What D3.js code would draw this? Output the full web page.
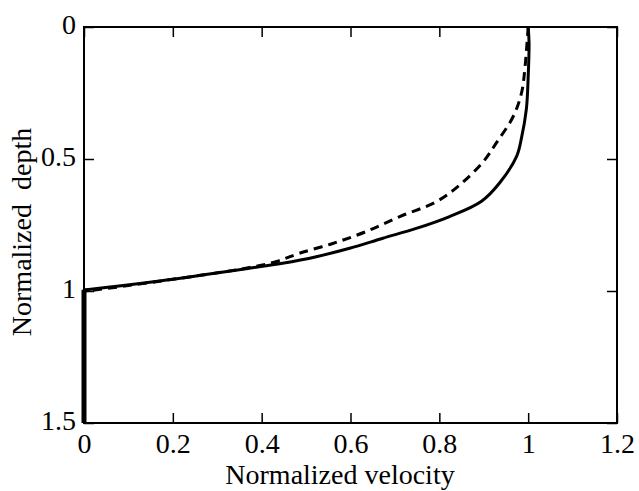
<!DOCTYPE html>
<html>
<head>
<meta charset="utf-8">
<script src="https://cdn.jsdelivr.net/npm/d3@7"></script>
<style>
  html, body { margin: 0; padding: 0; background: #fff; }
  svg { display: block; }
</style>
</head>
<body>
<svg id="chart" width="639" height="491"></svg>
<script>
// ---- data ----
const xTicks = [0, 0.2, 0.4, 0.6, 0.8, 1, 1.2];
const yTicks = [0, 0.5, 1, 1.5];
const xTickLabels = ["0", "0.2", "0.4", "0.6", "0.8", "1", "1.2"];
const yTickLabels = ["0", "0.5", "1", "1.5"];

// solid profile: velocity / depth pairs (above the bed, depth <= 1)
const solidVelocity = [1.0, 1.002, 1.0, 0.996, 0.985, 0.974, 0.936, 0.895, 0.823, 0.748, 0.673, 0.598, 0.523, 0.447, 0.372, 0.17, 0.02, 0];
const solidDepth    = [0, 0.06, 0.19, 0.31, 0.42, 0.49, 0.59, 0.66, 0.718, 0.763, 0.80, 0.838, 0.87, 0.895, 0.914, 0.962, 0.992, 0.995];

// dashed profile
const dashedVelocity = [1.0, 0.993, 0.985, 0.966, 0.928, 0.899, 0.846, 0.793, 0.711, 0.635, 0.560, 0.485, 0.432, 0.37, 0.17, 0.02, 0];
const dashedDepth    = [0, 0.15, 0.25, 0.34, 0.44, 0.51, 0.598, 0.662, 0.718, 0.775, 0.82, 0.857, 0.889, 0.912, 0.963, 0.997, 1.0];

// zero-velocity segment below the bed
const bedVelocity = [0, 0];
const bedDepth = [0.995, 1.5];

const xTitle = "Normalized velocity";
const yTitle = "Normalized  depth";

// ---- layout ----
const FONT = "'Liberation Serif', 'Times New Roman', Times, 'DejaVu Serif', serif";
const mLeft = 84, mRight = 617, mTop = 27, mBottom = 423;
const svg = d3.select("#chart");
const x = d3.scaleLinear().domain([0, 1.2]).range([mLeft, mRight]);
const y = d3.scaleLinear().domain([0, 1.5]).range([mTop, mBottom]);

const tickLen = 10;
const gB = svg.append("g").attr("transform", `translate(0,${mBottom})`)
  .call(d3.axisBottom(x).tickValues(xTicks).tickSize(-tickLen).tickFormat((d, i) => xTickLabels[i]).tickPadding(10));
const gT = svg.append("g").attr("transform", `translate(0,${mTop})`)
  .call(d3.axisTop(x).tickValues(xTicks).tickSize(-tickLen).tickFormat(""));
const gL = svg.append("g").attr("transform", `translate(${mLeft},0)`)
  .call(d3.axisLeft(y).tickValues(yTicks).tickSize(-tickLen).tickFormat((d, i) => yTickLabels[i]).tickPadding(8));
const gR = svg.append("g").attr("transform", `translate(${mRight},0)`)
  .call(d3.axisRight(y).tickValues(yTicks).tickSize(-tickLen).tickFormat(""));

[gB, gT, gL, gR].forEach(g => {
  g.attr("font-family", null).attr("font-size", null);
  g.select(".domain").remove();
  g.selectAll(".tick line").attr("stroke", "#000").attr("stroke-width", 1.5);
  g.selectAll(".tick text").attr("font-family", FONT).attr("font-size", 28).attr("fill", "#000");
});
gL.selectAll(".tick text").attr("dy", "0.22em");
gB.selectAll(".tick text").attr("dy", "0.71em");

// frame
svg.append("rect").attr("x", mLeft).attr("y", mTop)
  .attr("width", mRight - mLeft).attr("height", mBottom - mTop)
  .attr("fill", "none").attr("stroke", "#000").attr("stroke-width", 2);

// curves
const line = d3.line().x(d => x(d[0])).y(d => y(d[1])).curve(d3.curveCatmullRom.alpha(0.5));
const straight = d3.line().x(d => x(d[0])).y(d => y(d[1]));
const solidPts = solidVelocity.map((v, i) => [v, solidDepth[i]]);
const dashedPts = dashedVelocity.map((v, i) => [v, dashedDepth[i]]);
const bedPts = bedVelocity.map((v, i) => [v, bedDepth[i]]);

svg.append("path").datum(dashedPts).attr("d", line)
  .attr("fill", "none").attr("stroke", "#000").attr("stroke-width", 3)
  .attr("stroke-dasharray", "9,6");
svg.append("path").datum(solidPts).attr("d", line)
  .attr("fill", "none").attr("stroke", "#000").attr("stroke-width", 3);
svg.append("path").datum(bedPts).attr("d", straight)
  .attr("fill", "none").attr("stroke", "#000").attr("stroke-width", 5);

// titles
svg.append("text").attr("x", 340).attr("y", 484).attr("text-anchor", "middle")
  .attr("font-family", FONT).attr("font-size", 28).text(xTitle);
svg.append("text").attr("transform", "translate(31,232) rotate(-90)").attr("text-anchor", "middle")
  .attr("font-family", FONT).attr("font-size", 28).attr("xml:space", "preserve")
  .style("white-space", "pre").text(yTitle);
</script>
</body>
</html>
